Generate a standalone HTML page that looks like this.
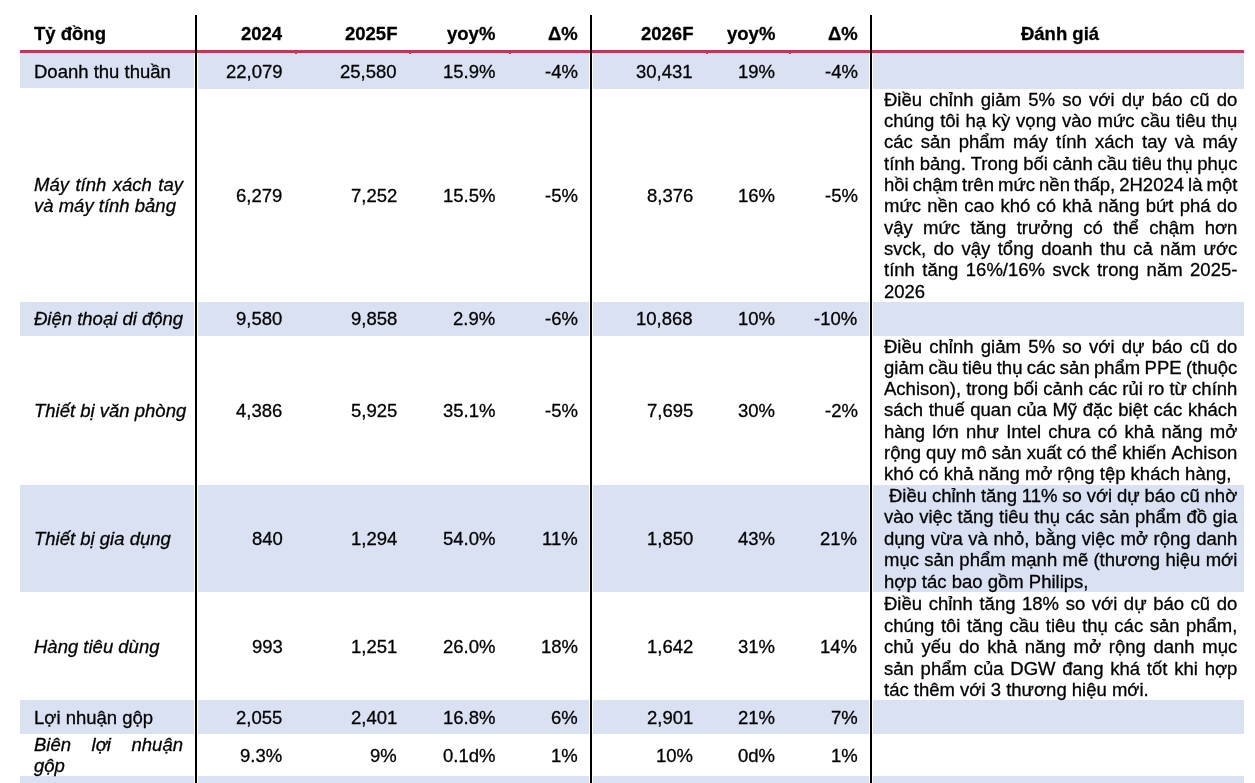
<!DOCTYPE html>
<html><head><meta charset="utf-8"><style>
html,body{margin:0;padding:0;background:#fff;}
body{width:1255px;height:783px;overflow:hidden;position:relative;font-family:"Liberation Sans",sans-serif;font-size:18.5px;line-height:21.27px;color:#000;}
body>div{position:absolute;white-space:nowrap;}
.t{will-change:transform;-webkit-text-stroke:0.3px #000;}
.b{font-weight:bold;}
.i{font-style:italic;}
.j{display:flex;justify-content:space-between;}
</style></head><body>
<div style="left:20px;top:53px;width:174px;height:35px;background:#D9E1F2"></div>
<div style="left:198px;top:53px;width:391px;height:36px;background:#D9E1F2"></div>
<div style="left:593px;top:53px;width:276px;height:36px;background:#D9E1F2"></div>
<div style="left:873px;top:53px;width:371px;height:36px;background:#D9E1F2"></div>
<div style="left:20px;top:302px;width:174px;height:34px;background:#D9E1F2"></div>
<div style="left:198px;top:302px;width:391px;height:34px;background:#D9E1F2"></div>
<div style="left:593px;top:302px;width:276px;height:34px;background:#D9E1F2"></div>
<div style="left:873px;top:302px;width:371px;height:34px;background:#D9E1F2"></div>
<div style="left:20px;top:485px;width:174px;height:107px;background:#D9E1F2"></div>
<div style="left:198px;top:485px;width:391px;height:107px;background:#D9E1F2"></div>
<div style="left:593px;top:485px;width:276px;height:107px;background:#D9E1F2"></div>
<div style="left:873px;top:485px;width:371px;height:107px;background:#D9E1F2"></div>
<div style="left:20px;top:700px;width:174px;height:34px;background:#D9E1F2"></div>
<div style="left:198px;top:700px;width:391px;height:34px;background:#D9E1F2"></div>
<div style="left:593px;top:700px;width:276px;height:34px;background:#D9E1F2"></div>
<div style="left:873px;top:700px;width:371px;height:34px;background:#D9E1F2"></div>
<div style="left:20px;top:776px;width:174px;height:24px;background:#D9E1F2"></div>
<div style="left:198px;top:776px;width:391px;height:24px;background:#D9E1F2"></div>
<div style="left:593px;top:776px;width:276px;height:24px;background:#D9E1F2"></div>
<div style="left:873px;top:776px;width:371px;height:24px;background:#D9E1F2"></div>
<div style="left:20px;top:50px;width:1224px;height:3px;background:#BF3656"></div>
<div style="left:295px;top:53px;width:2px;height:1px;background:#BF3656"></div>
<div style="left:409px;top:53px;width:2px;height:1px;background:#BF3656"></div>
<div style="left:509px;top:53px;width:2px;height:1px;background:#BF3656"></div>
<div style="left:706px;top:53px;width:2px;height:1px;background:#BF3656"></div>
<div style="left:789px;top:53px;width:2px;height:1px;background:#BF3656"></div>
<div style="left:195px;top:15px;width:2px;height:768px;background:#000"></div>
<div style="left:590px;top:15px;width:2px;height:768px;background:#000"></div>
<div style="left:870px;top:15px;width:2px;height:768px;background:#000"></div>
<div class="t b" style="top:23.25px;left:33.50px;">Tỷ đồng</div>
<div class="t b" style="top:23.25px;right:972.50px;text-align:right;">2024</div>
<div class="t b" style="top:23.25px;right:858.00px;text-align:right;">2025F</div>
<div class="t b" style="top:23.25px;right:759.50px;text-align:right;">yoy%</div>
<div class="t b" style="top:23.25px;right:677.00px;text-align:right;">Δ%</div>
<div class="t b" style="top:23.25px;right:562.00px;text-align:right;">2026F</div>
<div class="t b" style="top:23.25px;right:479.50px;text-align:right;">yoy%</div>
<div class="t b" style="top:23.25px;right:397.50px;text-align:right;">Δ%</div>
<div class="t b" style="top:23.25px;left:860.00px;width:400px;text-align:center;">Đánh giá</div>
<div class="t" style="top:60.95px;right:972.50px;text-align:right;">22,079</div>
<div class="t" style="top:60.95px;right:858.00px;text-align:right;">25,580</div>
<div class="t" style="top:60.95px;right:759.50px;text-align:right;">15.9%</div>
<div class="t" style="top:60.95px;right:677.00px;text-align:right;">-4%</div>
<div class="t" style="top:60.95px;right:562.00px;text-align:right;">30,431</div>
<div class="t" style="top:60.95px;right:479.50px;text-align:right;">19%</div>
<div class="t" style="top:60.95px;right:397.50px;text-align:right;">-4%</div>
<div class="t" style="top:184.55px;right:972.50px;text-align:right;">6,279</div>
<div class="t" style="top:184.55px;right:858.00px;text-align:right;">7,252</div>
<div class="t" style="top:184.55px;right:759.50px;text-align:right;">15.5%</div>
<div class="t" style="top:184.55px;right:677.00px;text-align:right;">-5%</div>
<div class="t" style="top:184.55px;right:562.00px;text-align:right;">8,376</div>
<div class="t" style="top:184.55px;right:479.50px;text-align:right;">16%</div>
<div class="t" style="top:184.55px;right:397.50px;text-align:right;">-5%</div>
<div class="t" style="top:307.95px;right:972.50px;text-align:right;">9,580</div>
<div class="t" style="top:307.95px;right:858.00px;text-align:right;">9,858</div>
<div class="t" style="top:307.95px;right:759.50px;text-align:right;">2.9%</div>
<div class="t" style="top:307.95px;right:677.00px;text-align:right;">-6%</div>
<div class="t" style="top:307.95px;right:562.00px;text-align:right;">10,868</div>
<div class="t" style="top:307.95px;right:479.50px;text-align:right;">10%</div>
<div class="t" style="top:307.95px;right:397.50px;text-align:right;">-10%</div>
<div class="t" style="top:399.95px;right:972.50px;text-align:right;">4,386</div>
<div class="t" style="top:399.95px;right:858.00px;text-align:right;">5,925</div>
<div class="t" style="top:399.95px;right:759.50px;text-align:right;">35.1%</div>
<div class="t" style="top:399.95px;right:677.00px;text-align:right;">-5%</div>
<div class="t" style="top:399.95px;right:562.00px;text-align:right;">7,695</div>
<div class="t" style="top:399.95px;right:479.50px;text-align:right;">30%</div>
<div class="t" style="top:399.95px;right:397.50px;text-align:right;">-2%</div>
<div class="t" style="top:528.15px;right:972.50px;text-align:right;">840</div>
<div class="t" style="top:528.15px;right:858.00px;text-align:right;">1,294</div>
<div class="t" style="top:528.15px;right:759.50px;text-align:right;">54.0%</div>
<div class="t" style="top:528.15px;right:677.00px;text-align:right;">11%</div>
<div class="t" style="top:528.15px;right:562.00px;text-align:right;">1,850</div>
<div class="t" style="top:528.15px;right:479.50px;text-align:right;">43%</div>
<div class="t" style="top:528.15px;right:397.50px;text-align:right;">21%</div>
<div class="t" style="top:636.25px;right:972.50px;text-align:right;">993</div>
<div class="t" style="top:636.25px;right:858.00px;text-align:right;">1,251</div>
<div class="t" style="top:636.25px;right:759.50px;text-align:right;">26.0%</div>
<div class="t" style="top:636.25px;right:677.00px;text-align:right;">18%</div>
<div class="t" style="top:636.25px;right:562.00px;text-align:right;">1,642</div>
<div class="t" style="top:636.25px;right:479.50px;text-align:right;">31%</div>
<div class="t" style="top:636.25px;right:397.50px;text-align:right;">14%</div>
<div class="t" style="top:706.85px;right:972.50px;text-align:right;">2,055</div>
<div class="t" style="top:706.85px;right:858.00px;text-align:right;">2,401</div>
<div class="t" style="top:706.85px;right:759.50px;text-align:right;">16.8%</div>
<div class="t" style="top:706.85px;right:677.00px;text-align:right;">6%</div>
<div class="t" style="top:706.85px;right:562.00px;text-align:right;">2,901</div>
<div class="t" style="top:706.85px;right:479.50px;text-align:right;">21%</div>
<div class="t" style="top:706.85px;right:397.50px;text-align:right;">7%</div>
<div class="t" style="top:744.65px;right:972.50px;text-align:right;">9.3%</div>
<div class="t" style="top:744.65px;right:858.00px;text-align:right;">9%</div>
<div class="t" style="top:744.65px;right:759.50px;text-align:right;">0.1d%</div>
<div class="t" style="top:744.65px;right:677.00px;text-align:right;">1%</div>
<div class="t" style="top:744.65px;right:562.00px;text-align:right;">10%</div>
<div class="t" style="top:744.65px;right:479.50px;text-align:right;">0d%</div>
<div class="t" style="top:744.65px;right:397.50px;text-align:right;">1%</div>
<div class="t" style="top:60.95px;left:33.50px;">Doanh thu thuần</div>
<div class="t j i" style="top:173.65px;left:33.50px;width:149px;"><span>Máy</span><span>tính</span><span>xách</span><span>tay</span></div>
<div class="t i" style="top:195.45px;left:33.50px;">và máy tính bảng</div>
<div class="t i" style="top:307.95px;left:33.50px;">Điện thoại di động</div>
<div class="t i" style="top:399.95px;left:33.50px;">Thiết bị văn phòng</div>
<div class="t i" style="top:528.15px;left:33.50px;">Thiết bị gia dụng</div>
<div class="t i" style="top:636.25px;left:33.50px;">Hàng tiêu dùng</div>
<div class="t" style="top:706.85px;left:33.50px;">Lợi nhuận gộp</div>
<div class="t j i" style="top:733.55px;left:33.50px;width:149px;"><span>Biên</span><span>lợi</span><span>nhuận</span></div>
<div class="t i" style="top:754.55px;left:33.50px;">gộp</div>
<div class="t j " style="top:88.55px;left:883.60px;width:353.4px;"><span>Điều</span><span>chỉnh</span><span>giảm</span><span>5%</span><span>so</span><span>với</span><span>dự</span><span>báo</span><span>cũ</span><span>do</span></div>
<div class="t j " style="top:109.88px;left:883.60px;width:353.4px;"><span>chúng</span><span>tôi</span><span>hạ</span><span>kỳ</span><span>vọng</span><span>vào</span><span>mức</span><span>cầu</span><span>tiêu</span><span>thụ</span></div>
<div class="t j " style="top:131.21px;left:883.60px;width:353.4px;"><span>các</span><span>sản</span><span>phẩm</span><span>máy</span><span>tính</span><span>xách</span><span>tay</span><span>và</span><span>máy</span></div>
<div class="t j " style="top:152.54px;left:883.60px;width:353.4px;"><span>tính</span><span>bảng.</span><span>Trong</span><span>bối</span><span>cảnh</span><span>cầu</span><span>tiêu</span><span>thụ</span><span>phục</span></div>
<div class="t j " style="top:173.87px;left:883.60px;width:353.4px;"><span>hồi</span><span>chậm</span><span>trên</span><span>mức</span><span>nền</span><span>thấp,</span><span>2H2024</span><span>là</span><span>một</span></div>
<div class="t j " style="top:195.20px;left:883.60px;width:353.4px;"><span>mức</span><span>nền</span><span>cao</span><span>khó</span><span>có</span><span>khả</span><span>năng</span><span>bứt</span><span>phá</span><span>do</span></div>
<div class="t j " style="top:216.53px;left:883.60px;width:353.4px;"><span>vậy</span><span>mức</span><span>tăng</span><span>trưởng</span><span>có</span><span>thể</span><span>chậm</span><span>hơn</span></div>
<div class="t j " style="top:237.86px;left:883.60px;width:353.4px;"><span>svck,</span><span>do</span><span>vậy</span><span>tổng</span><span>doanh</span><span>thu</span><span>cả</span><span>năm</span><span>ước</span></div>
<div class="t j " style="top:259.19px;left:883.60px;width:353.4px;"><span>tính</span><span>tăng</span><span>16%/16%</span><span>svck</span><span>trong</span><span>năm</span><span>2025-</span></div>
<div class="t" style="top:280.52px;left:883.60px;width:353.4px;">2026</div>
<div class="t j " style="top:335.65px;left:883.60px;width:353.4px;"><span>Điều</span><span>chỉnh</span><span>giảm</span><span>5%</span><span>so</span><span>với</span><span>dự</span><span>báo</span><span>cũ</span><span>do</span></div>
<div class="t j " style="top:356.92px;left:883.60px;width:353.4px;"><span>giảm</span><span>cầu</span><span>tiêu</span><span>thụ</span><span>các</span><span>sản</span><span>phẩm</span><span>PPE</span><span>(thuộc</span></div>
<div class="t j " style="top:378.19px;left:883.60px;width:353.4px;"><span>Achison),</span><span>trong</span><span>bối</span><span>cảnh</span><span>các</span><span>rủi</span><span>ro</span><span>từ</span><span>chính</span></div>
<div class="t j " style="top:399.46px;left:883.60px;width:353.4px;"><span>sách</span><span>thuế</span><span>quan</span><span>của</span><span>Mỹ</span><span>đặc</span><span>biệt</span><span>các</span><span>khách</span></div>
<div class="t j " style="top:420.73px;left:883.60px;width:353.4px;"><span>hàng</span><span>lớn</span><span>như</span><span>Intel</span><span>chưa</span><span>có</span><span>khả</span><span>năng</span><span>mở</span></div>
<div class="t j " style="top:442.00px;left:883.60px;width:353.4px;"><span>rộng</span><span>quy</span><span>mô</span><span>sản</span><span>xuất</span><span>có</span><span>thể</span><span>khiến</span><span>Achison</span></div>
<div class="t" style="top:463.27px;left:883.60px;width:353.4px;">khó có khả năng mở rộng tệp khách hàng,</div>
<div class="t j " style="top:484.85px;left:883.60px;width:353.4px;padding-left:5px;box-sizing:border-box;"><span>Điều</span><span>chỉnh</span><span>tăng</span><span>11%</span><span>so</span><span>với</span><span>dự</span><span>báo</span><span>cũ</span><span>nhờ</span></div>
<div class="t j " style="top:506.30px;left:883.60px;width:353.4px;"><span>vào</span><span>việc</span><span>tăng</span><span>tiêu</span><span>thụ</span><span>các</span><span>sản</span><span>phẩm</span><span>đồ</span><span>gia</span></div>
<div class="t j " style="top:527.75px;left:883.60px;width:353.4px;"><span>dụng</span><span>vừa</span><span>và</span><span>nhỏ,</span><span>bằng</span><span>việc</span><span>mở</span><span>rộng</span><span>danh</span></div>
<div class="t j " style="top:549.20px;left:883.60px;width:353.4px;"><span>mục</span><span>sản</span><span>phẩm</span><span>mạnh</span><span>mẽ</span><span>(thương</span><span>hiệu</span><span>mới</span></div>
<div class="t" style="top:570.65px;left:883.60px;width:353.4px;">hợp tác bao gồm Philips,</div>
<div class="t j " style="top:593.35px;left:883.60px;width:353.4px;"><span>Điều</span><span>chỉnh</span><span>tăng</span><span>18%</span><span>so</span><span>với</span><span>dự</span><span>báo</span><span>cũ</span><span>do</span></div>
<div class="t j " style="top:614.82px;left:883.60px;width:353.4px;"><span>chúng</span><span>tôi</span><span>tăng</span><span>cầu</span><span>tiêu</span><span>thụ</span><span>các</span><span>sản</span><span>phẩm,</span></div>
<div class="t j " style="top:636.29px;left:883.60px;width:353.4px;"><span>chủ</span><span>yếu</span><span>do</span><span>khả</span><span>năng</span><span>mở</span><span>rộng</span><span>danh</span><span>mục</span></div>
<div class="t j " style="top:657.76px;left:883.60px;width:353.4px;"><span>sản</span><span>phẩm</span><span>của</span><span>DGW</span><span>đang</span><span>khá</span><span>tốt</span><span>khi</span><span>hợp</span></div>
<div class="t" style="top:679.23px;left:883.60px;width:353.4px;">tác thêm với 3 thương hiệu mới.</div>
</body></html>
